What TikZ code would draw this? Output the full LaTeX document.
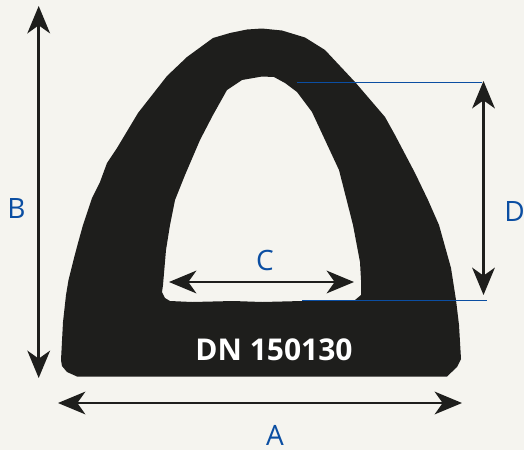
\documentclass[tikz,border=0pt]{standalone}
\usepackage{fontspec}
\setmainfont{Open Sans}
\usetikzlibrary{arrows.meta}
\definecolor{paper}{HTML}{F5F4EF}
\definecolor{profile}{HTML}{1E1E1C}
\definecolor{dimblue}{HTML}{0B4EA2}
\tikzset{
  dimarrow/.style={draw=profile,line width=1.9pt,{Stealth[length=20.5pt,width=17pt,inset=6pt]}-{Stealth[length=20.5pt,width=17pt,inset=6pt]},shorten >=0pt,shorten <=0pt},
  guide/.style={draw=dimblue,line width=0.75pt},
  dimlabel/.style={text=dimblue,font=\fontsize{21}{21}\selectfont,inner sep=0pt},
  code/.style={text=white,font=\bfseries\fontsize{22.5}{22.5}\selectfont,inner sep=0pt}
}
\begin{document}
\begin{tikzpicture}[x=0.75pt,y=-0.75pt]
\useasboundingbox[fill=paper] (0,0) rectangle (524,450);
% profile
\fill[profile,even odd rule]
  (262,28.5) -- (282,30.5) -- (305,37.5) -- (325,50) -- (355,82) -- (385,117) -- (395,135) -- (415,173) -- (428,200) -- (439,225)
  -- (451,268) -- (456,300) -- (459,325) -- (461,359) -- (457,367) -- (447,376.5)
  -- (77,376.5) -- (67,372) -- (62,366) -- (61,360) -- (63,322) -- (66,295) -- (68.5,280) -- (74,258) -- (78,243) -- (83,225)
  -- (92,198) -- (100,182) -- (107,163) -- (117,148) -- (138,113) -- (167,76) -- (187,57) -- (213,38) -- (230,33) -- (247,29.5) -- cycle
  (262,76.5) -- (274,77) -- (285,83) -- (297,92) -- (312,112) -- (339,170) -- (353,225) -- (360,262) -- (361,280) -- (361,295) -- (355,300)
  -- (302,301) -- (262,302) -- (233,301) -- (192,302) -- (170,301) -- (165,298) -- (162,292) -- (163,285) -- (166,250) -- (170,225)
  -- (175,200) -- (185,175) -- (200,140) -- (213,115) -- (227,90) -- (242,80) -- cycle;
% guides
\coordinate (dt) at (483.5,81);
\coordinate (db) at (483.5,295);
\coordinate (gt0) at (297,82);
\coordinate (gt1) at (482,82);
\coordinate (gb0) at (302,300.5);
\coordinate (gb1) at (487,300.5);
\draw[guide] (gt0) -- (gt1);
\draw[guide] (gb0) -- (gb1);
% dimension arrows
\coordinate (bt) at (38.7,6);
\coordinate (bb) at (38.7,378);
\coordinate (al) at (58,403);
\coordinate (ar) at (462,403);
\coordinate (cl) at (169,282);
\coordinate (cr) at (354,282);
\draw[dimarrow] (bt) -- (bb);
\draw[dimarrow] (dt) -- (db);
\draw[dimarrow] (al) -- (ar);
\draw[dimarrow] (cl) -- (cr);
% labels
\node[dimlabel] (lb) at (16.5,209) {B};
\node[dimlabel] (ld) at (514.5,212) {D};
\node[dimlabel] (la) at (275,435) {A};
\node[dimlabel] (lc) at (265,260) {C};
\node[code] (name) at (274,349.5) {DN 150130};
\end{tikzpicture}
\end{document}
